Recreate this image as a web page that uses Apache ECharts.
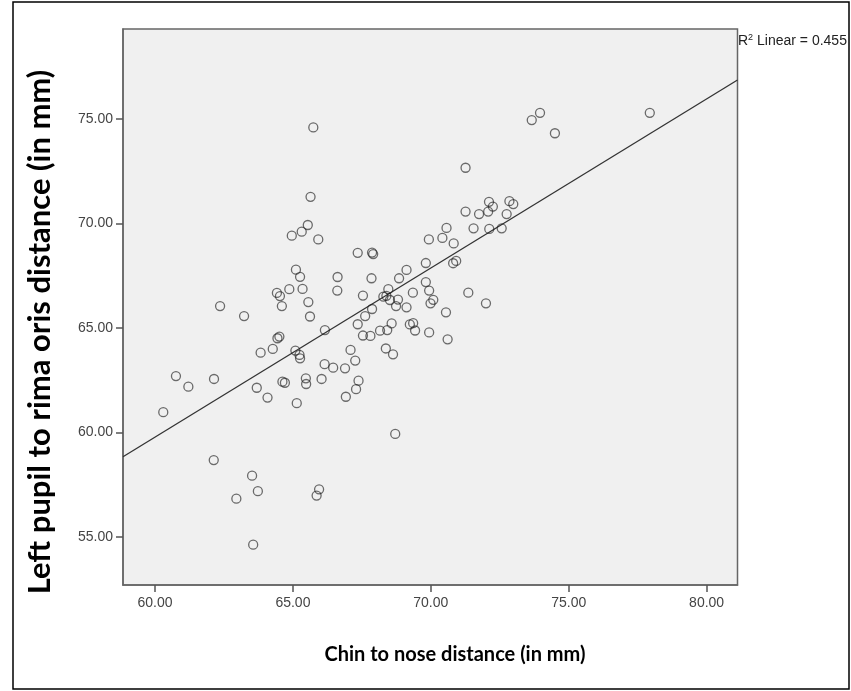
<!DOCTYPE html>
<html>
<head>
<meta charset="utf-8">
<title>Chin to nose vs left pupil to rima oris</title>
<script src="https://cdn.jsdelivr.net/npm/echarts@6.0.0/dist/echarts.min.js"></script>
<style>
    html, body { margin: 0; padding: 0; background: #fff; }
    #chart { width: 851px; height: 691px; }
</style>
</head>
<body>
<div id="chart"></div>
<script>
// 数据：下巴到鼻子距离 (x) 与 左瞳孔到口裂距离 (y)，单位 mm
const chinToNose = [
    65.74, 65.64, 77.94, 73.66, 73.96, 74.50, 71.26, 71.26, 71.75, 72.11,
    72.08, 72.25, 72.85, 72.99, 72.75, 70.57, 69.93, 70.42, 70.83, 71.55,
    72.12, 72.57, 69.82, 70.81, 70.92, 69.82, 69.94, 70.09, 69.99, 71.36,
    72.00, 70.55, 69.94, 70.61, 64.96, 65.32, 65.54, 65.92, 67.35, 67.87,
    67.91, 65.11, 65.26, 66.62, 67.85, 69.12, 68.85, 64.42, 64.53, 64.87,
    65.35, 66.61, 67.54, 68.46, 68.28, 68.39, 68.52, 68.81, 69.35, 64.60,
    65.56, 62.36, 68.74, 69.12, 67.87, 65.62, 63.23, 67.62, 67.35, 68.16,
    68.42, 68.58, 69.24, 69.36, 69.43, 66.16, 67.54, 67.81, 64.44, 64.51,
    63.83, 64.27, 65.09, 65.24, 65.26, 67.09, 67.26, 68.37, 68.63, 66.15,
    66.46, 66.89, 60.76, 61.21, 62.14, 63.69, 64.62, 64.71, 65.47, 65.48,
    66.04, 67.38, 67.29, 66.92, 64.08, 65.14, 60.30, 68.71, 62.13, 63.52,
    63.73, 62.95, 65.95, 65.86, 63.56
];
const leftPupil = [
    74.59, 71.27, 75.29, 74.94, 75.29, 74.31, 72.66, 70.56, 70.44, 71.03,
    70.56, 70.80, 71.06, 70.92, 70.44, 69.78, 69.23, 69.30, 69.04, 69.76,
    69.73, 69.76, 68.10, 68.09, 68.20, 67.19, 66.78, 66.34, 66.17, 66.68,
    66.17, 65.74, 64.78, 64.45, 69.41, 69.60, 69.92, 69.23, 68.59, 68.60,
    68.53, 67.78, 67.44, 67.43, 67.37, 67.77, 67.37, 66.67, 66.52, 66.85,
    66.86, 66.78, 66.54, 66.85, 66.49, 66.53, 66.33, 66.35, 66.68, 66.04,
    66.23, 66.04, 66.04, 65.98, 65.90, 65.54, 65.56, 65.56, 65.17, 64.86,
    64.89, 65.21, 65.16, 65.22, 64.87, 64.89, 64.63, 64.61, 64.50, 64.58,
    63.81, 63.99, 63.91, 63.70, 63.54, 63.94, 63.43, 64.01, 63.73, 63.26,
    63.09, 63.06, 62.69, 62.18, 62.55, 62.13, 62.42, 62.37, 62.58, 62.31,
    62.55, 62.47, 62.06, 61.70, 61.66, 61.39, 60.96, 59.92, 58.67, 57.92,
    57.18, 56.82, 57.27, 56.97, 54.62
];

// 线性拟合线的两个端点（轴范围两端）
const fitX = [58.84, 81.12];
const fitY = [58.83, 76.86];
const r2Linear = 0.455;

// 刻度
const xTicks = [60, 65, 70, 75, 80];
const yTicks = [55, 60, 65, 70, 75];

let scatterChart = null;

function initChart() {
    scatterChart = echarts.init(document.getElementById('chart'));

    const points = chinToNose.map((x, i) => [x, leftPupil[i]]);
    const fitLine = fitX.map((x, i) => [x, fitY[i]]);

    const axisColor = '#666';
    const tickLabel = {
        color: '#444',
        fontSize: 14,
        fontFamily: 'Liberation Sans, Arial, sans-serif',
        formatter: v => v.toFixed(2)
    };
    const r2Font = { color: '#222', fontFamily: 'Liberation Sans, Arial', fontWeight: 'normal', lineHeight: 15 };

    const option = {
        animation: false,
        backgroundColor: '#fff',
        title: {
            text: '{a|R}{s|2}{a| Linear = ' + r2Linear + '}',
            left: 738,
            top: 33,
            padding: 0,
            textStyle: {
                fontWeight: 'normal',
                rich: {
                    a: Object.assign({ fontSize: 14, verticalAlign: 'bottom' }, r2Font),
                    s: Object.assign({ fontSize: 9, verticalAlign: 'top' }, r2Font)
                }
            }
        },
        grid: {
            left: 123,
            top: 29,
            width: 614.5,
            height: 556,
            show: true,
            backgroundColor: '#f0f0f0',
            borderColor: axisColor,
            borderWidth: 1.5,
            containLabel: false,
            outerBoundsMode: 'none'
        },
        xAxis: {
            type: 'value',
            min: 58.84,
            max: 81.12,
            splitLine: { show: false },
            axisLine: { show: true, onZero: false, lineStyle: { color: axisColor, width: 1.5 } },
            axisTick: { show: true, customValues: xTicks, length: 7, lineStyle: { color: '#555', width: 1.5 } },
            axisLabel: Object.assign({ customValues: xTicks, margin: 11 }, tickLabel)
        },
        yAxis: {
            type: 'value',
            min: 52.69,
            max: 79.30,
            splitLine: { show: false },
            axisLine: { show: true, onZero: false, lineStyle: { color: axisColor, width: 1.5 } },
            axisTick: { show: true, customValues: yTicks, length: 7, lineStyle: { color: '#555', width: 1.5 } },
            axisLabel: Object.assign({ customValues: yTicks, margin: 10 }, tickLabel)
        },
        graphic: [
            {
                type: 'rect',
                silent: true,
                z: -10,
                shape: { x: 13, y: 2, width: 836, height: 687 },
                style: { fill: 'none', stroke: '#000', lineWidth: 1.5 }
            },
            {
                type: 'text',
                x: 455,
                y: 655,
                style: {
                    text: 'Chin to nose distance (in mm)',
                    fontSize: 20,
                    fontWeight: 'bold',
                    fontFamily: 'Lato, Open Sans, sans-serif',
                    fill: '#000',
                    align: 'center',
                    verticalAlign: 'middle',
                    textAlign: 'center',
                    textVerticalAlign: 'middle'
                }
            },
            {
                type: 'text',
                x: 40,
                y: 332,
                rotation: Math.PI / 2,
                style: {
                    text: 'Left pupil to rima oris distance (in mm)',
                    fontSize: 31,
                    fontWeight: 'bold',
                    fontFamily: 'Lato, Open Sans, sans-serif',
                    fill: '#000',
                    align: 'center',
                    verticalAlign: 'middle',
                    textAlign: 'center',
                    textVerticalAlign: 'middle'
                }
            }
        ],
        series: [
            {
                name: 'fit',
                type: 'line',
                data: fitLine,
                showSymbol: false,
                silent: true,
                lineStyle: { color: '#333', width: 1.3 },
                z: 2
            },
            {
                name: 'points',
                type: 'scatter',
                data: points,
                symbol: 'circle',
                symbolSize: 9,
                itemStyle: {
                    color: 'rgba(0,0,0,0)',
                    borderColor: 'rgba(30,30,30,0.8)',
                    borderWidth: 1.3
                },
                z: 3
            }
        ]
    };

    scatterChart.setOption(option);
}

document.addEventListener('DOMContentLoaded', function() {
    initChart();
    window.addEventListener('resize', function() {
        if (scatterChart) scatterChart.resize();
    });
});
</script>
</body>
</html>
